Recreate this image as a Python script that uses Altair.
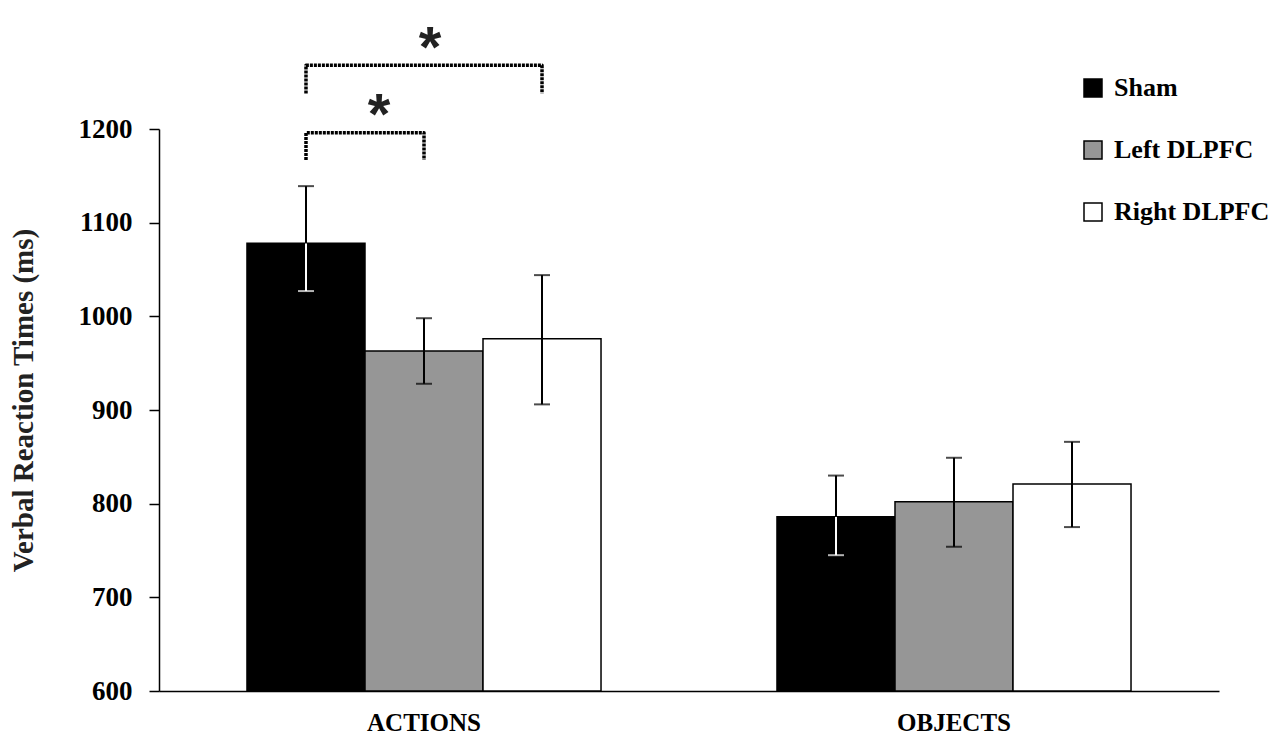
import altair as alt
import pandas as pd

# ---- data ----
categories = ["ACTIONS", "OBJECTS"]
conditions = ["Sham", "Left DLPFC", "Right DLPFC"]
fill_colors = ["#000000", "#969696", "#ffffff"]

mean_actions = [1078, 963, 976]
low_actions = [1027, 928, 906]
high_actions = [1139, 998, 1044]

mean_objects = [786, 802, 821]
low_objects = [745, 754, 775]
high_objects = [830, 849, 866]

y_ticks = [600, 700, 800, 900, 1000, 1100, 1200]
y_base = 600

# significance brackets (ACTIONS): from/to condition, top/bottom level, star level
bracket_names = ["A", "B"]
bracket_from = ["Sham", "Sham"]
bracket_to = ["Right DLPFC", "Left DLPFC"]
bracket_top = [1268, 1196]
bracket_bottom = [1238, 1167]
star_level = [1295, 1224]

# ---- tables ----
rows = []
for cat, means, lows, highs in [
    ("ACTIONS", mean_actions, low_actions, high_actions),
    ("OBJECTS", mean_objects, low_objects, high_objects),
]:
    for cond, m, lo, hi in zip(conditions, means, lows, highs):
        rows.append({"category": cat, "condition": cond, "mean": m, "lo": lo, "hi": hi, "base": y_base})
df = pd.DataFrame(rows)

brows = []
for name, f, t, top, bot in zip(bracket_names, bracket_from, bracket_to, bracket_top, bracket_bottom):
    pts = [(f, bot), (f, top), (t, top), (t, bot)]
    for i, (cond, lvl) in enumerate(pts):
        brows.append({"bracket": name, "order": i, "category": "ACTIONS", "condition": cond, "level": lvl})
bdf = pd.DataFrame(brows)

star_df = pd.DataFrame({
    "bracket": bracket_names,
    "category": ["ACTIONS", "ACTIONS"],
    "condition": ["Left DLPFC", "Sham"],
    "level": star_level,
    "label": ["*", "*"],
})

FONT = "Liberation Serif"

x_enc = alt.X(
    "category:N",
    sort=categories,
    scale=alt.Scale(domain=categories, paddingInner=0.332, paddingOuter=0.166),
    axis=alt.Axis(
        title=None, ticks=False, tickSize=0, labelAngle=0, labelFontSize=25,
        labelPadding=19, domainWidth=1.5, domainColor="black",
    ),
)
xo_enc = alt.XOffset("condition:N", sort=conditions, scale=alt.Scale(domain=conditions))

y_scale = alt.Scale(domain=[600, 1200], nice=False, zero=False)
y_axis = alt.Axis(
    values=y_ticks, format="d", tickSize=10, tickWidth=1.5, domainWidth=1.5,
    labelFontSize=27, labelPadding=17, grid=False,
    title="Verbal Reaction Times (ms)", titleFont=FONT, titleFontSize=29,
    titleFontWeight="bold", titleColor="#222222", titleAngle=270,
    titleX=-136, titleY=271, titleAlign="center", titleBaseline="middle",
)

base = alt.Chart(df)

bars = base.mark_bar(stroke="black", strokeWidth=1.5).encode(
    x=x_enc,
    xOffset=xo_enc,
    y=alt.Y("mean:Q", scale=y_scale, axis=y_axis),
    y2="base:Q",
    fill=alt.Fill(
        "condition:N",
        sort=conditions,
        scale=alt.Scale(domain=conditions, range=fill_colors),
        legend=alt.Legend(
            title=None, orient="none", legendX=921, legendY=-54,
            direction="vertical", symbolType="square", symbolSize=324,
            symbolStrokeColor="black", symbolStrokeWidth=1.5,
            labelFont=FONT, labelFontSize=26, labelFontWeight="bold",
            labelColor="black", rowPadding=36, labelOffset=8, padding=0,
        ),
    ),
)

is_sham = "datum.condition == 'Sham'"

err_low = base.mark_rule(strokeWidth=2).encode(
    x=alt.X("category:N", sort=categories),
    xOffset=xo_enc,
    y=alt.Y("lo:Q"),
    y2="mean:Q",
    color=alt.condition(is_sham, alt.value("white"), alt.value("black")),
)
err_high = base.mark_rule(strokeWidth=2, color="black").encode(
    x=alt.X("category:N", sort=categories),
    xOffset=xo_enc,
    y=alt.Y("mean:Q"),
    y2="hi:Q",
)
cap_low = base.mark_tick(size=16, thickness=2, orient="horizontal").encode(
    x=alt.X("category:N", sort=categories),
    xOffset=xo_enc,
    y=alt.Y("lo:Q"),
    color=alt.condition(is_sham, alt.value("white"), alt.value("black")),
)
cap_high = base.mark_tick(size=16, thickness=2, orient="horizontal", color="black").encode(
    x=alt.X("category:N", sort=categories),
    xOffset=xo_enc,
    y=alt.Y("hi:Q"),
)

brackets = alt.Chart(bdf).mark_line(
    color="black", strokeWidth=3.5, strokeDash=[3, 1], strokeJoin="round"
).encode(
    x=alt.X("category:N", sort=categories),
    xOffset=alt.XOffset("condition:N", sort=conditions),
    y=alt.Y("level:Q"),
    detail="bracket:N",
    order="order:Q",
)

star_a = alt.Chart(star_df).transform_filter("datum.bracket == 'A'").mark_text(
    font="Liberation Sans", fontWeight="bold", fontSize=58, color="#222222",
    baseline="middle", dx=6, dy=10,
).encode(
    x=alt.X("category:N", sort=categories),
    xOffset=alt.XOffset("condition:N", sort=conditions),
    y=alt.Y("level:Q"),
    text="label:N",
)
star_b = alt.Chart(star_df).transform_filter("datum.bracket == 'B'").mark_text(
    font="Liberation Sans", fontWeight="bold", fontSize=58, color="#222222",
    baseline="middle", dx=73, dy=10,
).encode(
    x=alt.X("category:N", sort=categories),
    xOffset=alt.XOffset("condition:N", sort=conditions),
    y=alt.Y("level:Q"),
    text="label:N",
)

chart = alt.layer(
    bars, err_low, err_high, cap_low, cap_high, brackets, star_a, star_b
).properties(
    width=1060,
    height=562,
    autosize=alt.AutoSizeParams(type="none"),
    padding={"left": 151, "top": 121, "right": 51, "bottom": 45},
    background="white",
).configure_view(
    stroke=None
).configure_axis(
    grid=False, labelFont=FONT, labelFontWeight="bold", labelColor="black",
    domainColor="black", tickColor="black",
)

chart.save("out.html", embed_options={"renderer": "svg", "actions": False})
